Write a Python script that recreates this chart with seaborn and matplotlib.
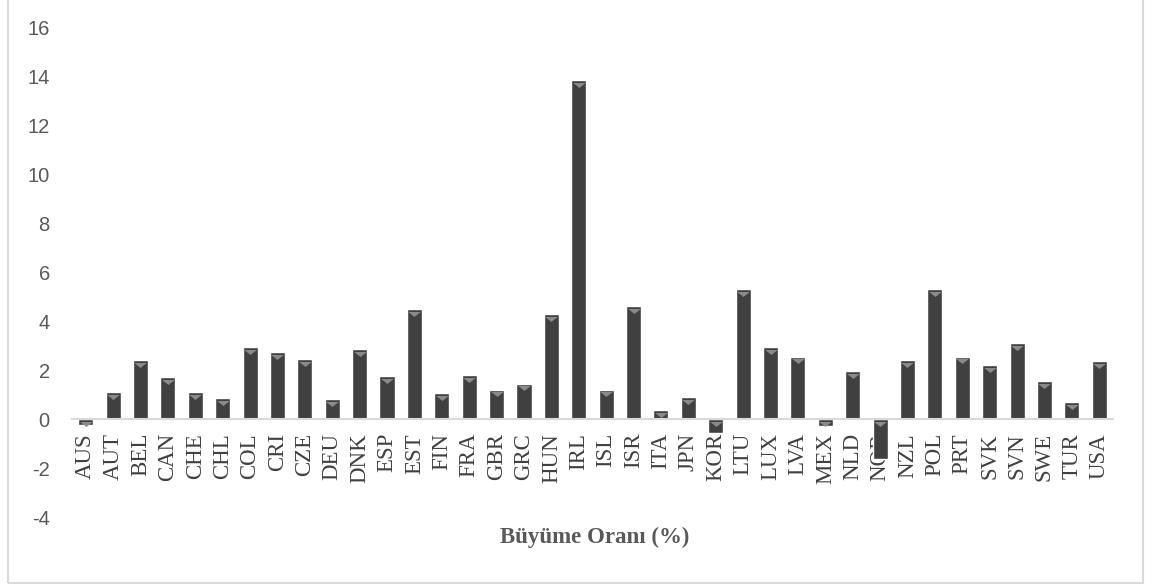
import numpy as np
import pandas as pd
import matplotlib
matplotlib.use("Agg")
import matplotlib.pyplot as plt
import matplotlib.transforms as mtransforms
from matplotlib.patches import Rectangle
import seaborn as sns

countries = ["AUS", "AUT", "BEL", "CAN", "CHE", "CHL", "COL", "CRI", "CZE", "DEU",
             "DNK", "ESP", "EST", "FIN", "FRA", "GBR", "GRC", "HUN", "IRL", "ISL",
             "ISR", "ITA", "JPN", "KOR", "LTU", "LUX", "LVA", "MEX", "NLD", "NOR",
             "NZL", "POL", "PRT", "SVK", "SVN", "SWE", "TUR", "USA"]
growth = [-0.25, 1.1, 2.4, 1.7, 1.1, 0.85, 2.95, 2.75, 2.45, 0.8,
          2.85, 1.75, 4.5, 1.05, 1.8, 1.2, 1.45, 4.3, 13.85, 1.2,
          4.6, 0.35, 0.9, -0.55, 5.3, 2.95, 2.55, -0.3, 1.95, -1.65,
          2.4, 5.3, 2.55, 2.2, 3.1, 1.55, 0.7, 2.35]
y_ticks = [-4, -2, 0, 2, 4, 6, 8, 10, 12, 14, 16]

df = pd.DataFrame({"country": countries, "growth": growth})

sns.set_style("white")
fig = plt.figure(figsize=(11.54, 5.88), dpi=100)
ax = fig.add_axes([0.0624, 0.1207, 0.902, 0.8333])

sns.barplot(data=df, x="country", y="growth", color="#404040", saturation=1,
            width=0.55, ax=ax)

# light triangle at the top of each bar
n = len(countries)
xs = np.arange(n)
tops = np.maximum(np.array(growth), 0)
tri = [(-1, 0.4), (1, 0.4), (0, -0.4)]
offset = mtransforms.offset_copy(ax.transData, fig=fig, x=0, y=-3.5, units="points")
ax.scatter(xs, tops, marker=tri, s=80, color="#8a8a8a", transform=offset,
           zorder=3, linewidths=0)

ax.set_ylim(-4, 16)
ax.set_xlim(-0.5, n - 0.5)
ax.set_yticks(y_ticks)
ax.set_yticklabels([str(t) for t in y_ticks], fontsize=14.5,
                   family="Liberation Sans", color="#595959")
ax.tick_params(axis="y", length=0, pad=16)

ax.spines["bottom"].set_position(("data", 0))
ax.spines["bottom"].set_color("#d9d9d9")
ax.spines["bottom"].set_linewidth(1.5)
for s in ["left", "right", "top"]:
    ax.spines[s].set_visible(False)

ax.set_xticks(xs)
ax.set_xticklabels(countries, rotation=90, fontsize=16.5,
                   family="Liberation Serif", color="#404040")
ax.set_xticks(np.arange(-0.5, n, 1), minor=True)
ax.tick_params(axis="x", which="major", length=0, pad=10)
ax.tick_params(axis="x", which="minor", length=5, width=1.5, color="#d9d9d9",
               direction="out")
ax.set_xlabel("")
ax.set_ylabel("")

fig.text(595 / 1154, 1 - 537 / 588, "Büyüme Oranı (%)", ha="center", va="center",
         fontsize=16.5, fontweight="bold", family="Liberation Serif",
         color="#595959")

# outer chart border
fig.patches.append(Rectangle((8 / 1154, 1 - 583 / 588), (1143 - 8) / 1154,
                             (583 + 5) / 588, transform=fig.transFigure,
                             fill=False, edgecolor="#d9d9d9", linewidth=1.5))

fig.savefig("out.png", dpi=100)
